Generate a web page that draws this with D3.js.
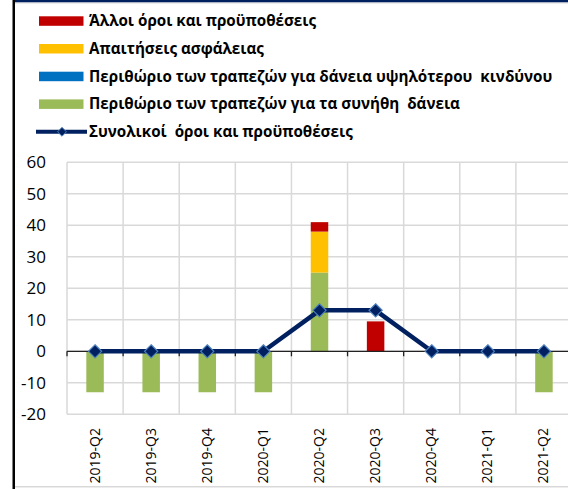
<!DOCTYPE html>
<html>
<head>
<meta charset="utf-8">
<script src="https://cdn.jsdelivr.net/npm/d3@7"></script>
<style>
  body { margin: 0; background: #fff; }
  svg { display: block; font-family: "Open Sans", "Noto Sans", sans-serif; }
</style>
</head>
<body>
<svg id="chart" width="568" height="489"></svg>
<script>
const categories = ["2019-Q2", "2019-Q3", "2019-Q4", "2020-Q1", "2020-Q2", "2020-Q3", "2020-Q4", "2021-Q1", "2021-Q2"]
const normalLoans = [-13, -13, -13, -13, 25, 0, 0, 0, -13]
const riskierLoans = [0, 0, 0, 0, 0, 0, 0, 0, 0]
const collateral = [0, 0, 0, 0, 13, 0, 0, 0, 0]
const otherTerms = [0, 0, 0, 0, 3, 9.5, 0, 0, 0]
const overall = [0, 0, 0, 0, 13, 13, 0, 0, 0]
const yTicks = [60, 50, 40, 30, 20, 10, 0, -10, -20]

const seriesNames = {
    other: "Άλλοι όροι και προϋποθέσεις",
    collateral: "Απαιτήσεις ασφάλειας",
    riskier: "Περιθώριο των τραπεζών για δάνεια υψηλότερου  κινδύνου",
    normal: "Περιθώριο των τραπεζών για τα συνήθη  δάνεια",
    overall: "Συνολικοί  όροι και προϋποθέσεις"
}
const colors = { other: "#c00000", collateral: "#ffc000", riskier: "#0070c0", normal: "#9bbb59" }
const navy = "#002060"

const svg = d3.select("#chart")

// frame
svg.append("rect").attr("x", 14).attr("y", 0).attr("width", 554).attr("height", 2.5).attr("fill", navy)
svg.append("rect").attr("x", 14).attr("y", 2.5).attr("width", 554).attr("height", 1).attr("fill", "#d9d9d9")
svg.append("rect").attr("x", 12.5).attr("y", 0).attr("width", 2.5).attr("height", 489).attr("fill", "#000")
svg.append("rect").attr("x", 15).attr("y", 486).attr("width", 553).attr("height", 1.5).attr("fill", "#d9d9d9")

const margin = { top: 162.3, bottom: 414.3, left: 67, right: 572 }

const x = d3.scaleBand().domain(categories).range([margin.left, margin.right]).padding(0)
const y = d3.scaleLinear().domain([-20, 60]).range([margin.bottom, margin.top])

// grid
const grid = svg.append("g")
grid.selectAll("line.h")
    .data(yTicks)
    .join("line")
    .attr("x1", margin.left).attr("x2", margin.right)
    .attr("y1", d => y(d)).attr("y2", d => y(d))
    .attr("stroke", "#d9d9d9").attr("stroke-width", 1.5)

const bounds = categories.map(c => x(c)).concat([margin.right])
grid.selectAll("line.v")
    .data(bounds)
    .join("line")
    .attr("x1", d => d).attr("x2", d => d)
    .attr("y1", margin.top).attr("y2", margin.bottom)
    .attr("stroke", "#d9d9d9").attr("stroke-width", 1.5)

// y labels
svg.append("g").selectAll("text")
    .data(yTicks)
    .join("text")
    .attr("x", 46)
    .attr("y", d => y(d))
    .attr("dy", "0.35em")
    .attr("text-anchor", "end")
    .attr("font-size", 17)
    .attr("fill", "#000")
    .text(d => d)

// stacked bars
const rows = categories.map((c, i) => ({
    cat: c,
    normal: normalLoans[i],
    riskier: riskierLoans[i],
    collateral: collateral[i],
    other: otherTerms[i]
}))
const stack = d3.stack()
    .keys(["normal", "riskier", "collateral", "other"])
    .offset(d3.stackOffsetDiverging)
const stacked = stack(rows)

const barW = 17.5
svg.append("g").selectAll("g")
    .data(stacked)
    .join("g")
    .attr("fill", s => colors[s.key])
    .selectAll("rect")
    .data(s => s.filter(d => d[1] !== d[0]))
    .join("rect")
    .attr("x", d => x(d.data.cat) + x.bandwidth() / 2 - barW / 2)
    .attr("width", barW)
    .attr("y", d => y(Math.max(d[0], d[1])))
    .attr("height", d => Math.abs(y(d[0]) - y(d[1])))

// zero axis with ticks
const axis = svg.append("g")
axis.append("line")
    .attr("x1", margin.left).attr("x2", margin.right)
    .attr("y1", y(0)).attr("y2", y(0))
    .attr("stroke", "#222").attr("stroke-width", 1.3)
axis.selectAll("line.tick")
    .data(bounds)
    .join("line")
    .attr("x1", d => d).attr("x2", d => d)
    .attr("y1", y(0)).attr("y2", y(0) + 5)
    .attr("stroke", "#222").attr("stroke-width", 1.3)

// overall line
const line = d3.line()
    .x((d, i) => x(categories[i]) + x.bandwidth() / 2)
    .y(d => y(d))
svg.append("path")
    .datum(overall)
    .attr("d", line)
    .attr("fill", "none")
    .attr("stroke", navy)
    .attr("stroke-width", 4.5)
    .attr("stroke-linejoin", "round")

const diamond = d3.symbol().type(d3.symbolDiamond2).size(110)
svg.append("g").selectAll("path")
    .data(overall)
    .join("path")
    .attr("d", diamond)
    .attr("transform", (d, i) => `translate(${x(categories[i]) + x.bandwidth() / 2},${y(d)})`)
    .attr("fill", navy)
    .attr("stroke", "#4f81bd")
    .attr("stroke-width", 1.2)

// x labels
svg.append("g").selectAll("text")
    .data(categories)
    .join("text")
    .attr("transform", c => `translate(${x(c) + x.bandwidth() / 2 + 4.5},${428}) rotate(-90)`)
    .attr("text-anchor", "end")
    .attr("font-size", 14)
    .attr("fill", "#000")
    .text(c => c)

// legend
const legendKeys = ["other", "collateral", "riskier", "normal", "overall"]
const legend = svg.append("g")
const item = legend.selectAll("g")
    .data(legendKeys)
    .join("g")
    .attr("transform", (k, i) => `translate(0,${21 + i * 27.7})`)

item.filter(k => k !== "overall")
    .append("rect")
    .attr("x", 39).attr("y", -4.7)
    .attr("width", 44.5).attr("height", 9.5)
    .attr("fill", k => colors[k])

const lg = item.filter(k => k === "overall")
lg.append("line")
    .attr("x1", 36).attr("x2", 87).attr("y1", 0).attr("y2", 0)
    .attr("stroke", navy).attr("stroke-width", 4)
lg.append("path")
    .attr("d", d3.symbol().type(d3.symbolDiamond2).size(50))
    .attr("transform", "translate(62,0)")
    .attr("fill", navy).attr("stroke", "#4f81bd").attr("stroke-width", 1)

item.append("text")
    .attr("x", 89)
    .attr("dy", "0.35em")
    .attr("font-size", 15.2)
    .attr("font-weight", "bold")
    .attr("fill", "#000")
    .style("white-space", "pre")
    .text(k => seriesNames[k])
</script>
</body>
</html>
